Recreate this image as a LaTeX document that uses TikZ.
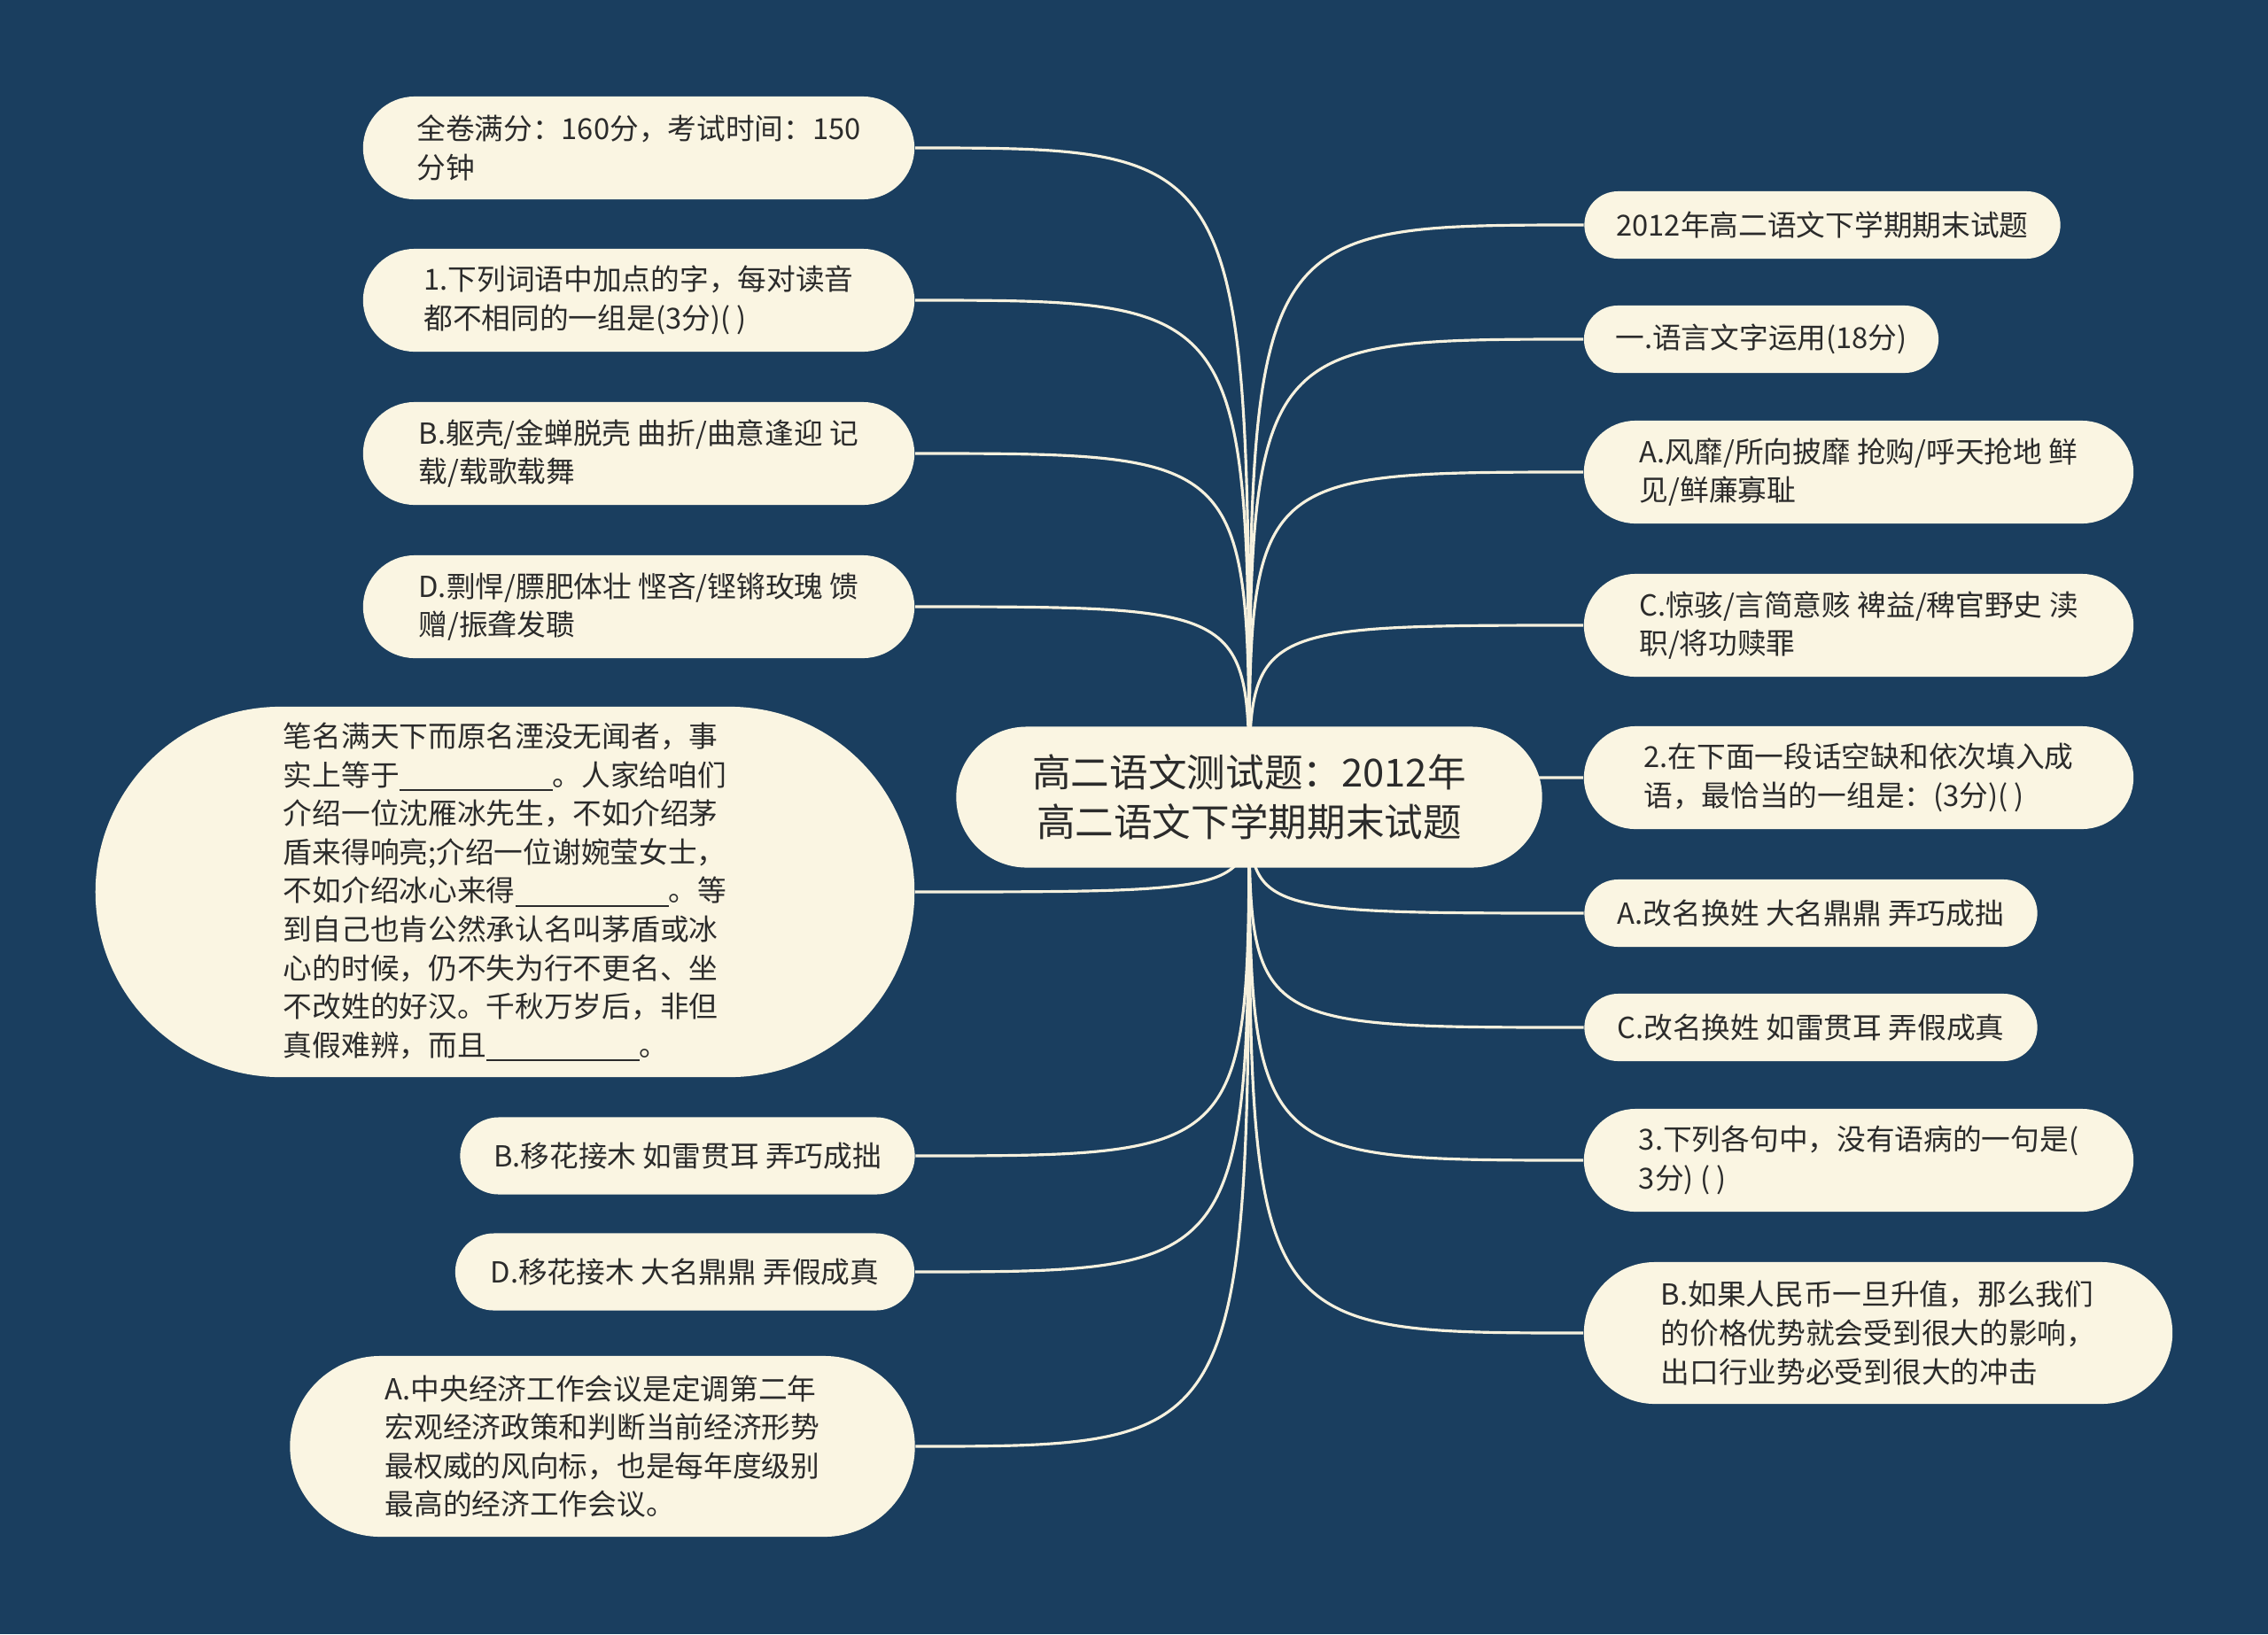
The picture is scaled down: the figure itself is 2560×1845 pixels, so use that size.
\documentclass[tikz,border=0pt]{standalone}
\usepackage{fontspec}
\setmainfont{Noto Sans CJK SC}
\usetikzlibrary{shapes.misc,backgrounds}
\definecolor{bgblue}{RGB}{26,62,95}
\definecolor{cream}{RGB}{250,245,226}
\definecolor{linecol}{RGB}{246,241,222}
\definecolor{ink}{RGB}{43,43,43}
\newcommand{\blank}{\rule[-0.18em]{1.73cm}{0.5pt}}

\begin{document}
\begin{tikzpicture}[x=0.01cm,y=-0.01cm,
  leaf/.style={rounded rectangle,fill=cream,text=ink,inner xsep=0pt,inner ysep=0pt,
    align=left,font=\fontsize{9.3pt}{12.4pt}\selectfont},
  root/.style={leaf,align=center,font=\fontsize{12.4pt}{15.8pt}\selectfont},
  link/.style={draw=linecol,line width=0.9pt}]
  \useasboundingbox (0,0) rectangle (2560,1845);
  % main topic
  \node[root,minimum width=6.61cm,minimum height=1.59cm] (M) at (1410,900) {高二语文测试题：2012年\\高二语文下学期期末试题};
  % left side
  \node[leaf,minimum width=6.22cm,minimum height=1.16cm] (L1) at (721,167) {全卷满分：160分，考试时间：150\\分钟};
  \node[leaf,minimum width=6.22cm,minimum height=1.16cm] (L2) at (721,339) {1.下列词语中加点的字，每对读音\\都不相同的一组是(3分)( )};
  \node[leaf,minimum width=6.22cm,minimum height=1.16cm] (L3) at (721,512) {B.躯壳/金蝉脱壳 曲折/曲意逢迎 记\\载/载歌载舞};
  \node[leaf,minimum width=6.22cm,minimum height=1.16cm] (L4) at (721,685) {D.剽悍/膘肥体壮 悭吝/铿锵玫瑰 馈\\赠/振聋发聩};
  \node[leaf,minimum width=9.24cm,minimum height=4.18cm] (L5) at (570,1007) {笔名满天下而原名湮没无闻者，事\\实上等于\blank。人家给咱们\\介绍一位沈雁冰先生，不如介绍茅\\盾来得响亮;介绍一位谢婉莹女士，\\不如介绍冰心来得\blank。等\\到自己也肯公然承认名叫茅盾或冰\\心的时候，仍不失为行不更名、坐\\不改姓的好汉。千秋万岁后，非但\\真假难辨，而且\blank。};
  \node[leaf,minimum width=5.13cm,minimum height=0.87cm] (L6) at (776,1305) {B.移花接木 如雷贯耳 弄巧成拙};
  \node[leaf,minimum width=5.18cm,minimum height=0.87cm] (L7) at (773,1436) {D.移花接木 大名鼎鼎 弄假成真};
  \node[leaf,minimum width=7.05cm,minimum height=2.04cm] (L8) at (680,1633) {A.中央经济工作会议是定调第二年\\宏观经济政策和判断当前经济形势\\最权威的风向标，也是每年度级别\\最高的经济工作会议。};
  % right side
  \node[leaf,minimum width=5.37cm,minimum height=0.76cm] (R1) at (2057,254) {2012年高二语文下学期期末试题};
  \node[leaf,minimum width=4.00cm,minimum height=0.76cm] (R2) at (1988,383) {一.语言文字运用(18分)};
  \node[leaf,minimum width=6.20cm,minimum height=1.16cm] (R3) at (2098,533) {A.风靡/所向披靡 抢购/呼天抢地 鲜\\见/鲜廉寡耻};
  \node[leaf,minimum width=6.20cm,minimum height=1.16cm] (R4) at (2098,706) {C.惊骇/言简意赅 裨益/稗官野史 渎\\职/将功赎罪};
  \node[leaf,minimum width=6.20cm,minimum height=1.16cm] (R5) at (2098,878) {2.在下面一段话空缺和依次填入成\\语，最恰当的一组是：(3分)( )};
  \node[leaf,minimum width=5.11cm,minimum height=0.76cm] (R6) at (2044,1031) {A.改名换姓 大名鼎鼎 弄巧成拙};
  \node[leaf,minimum width=5.11cm,minimum height=0.76cm] (R7) at (2044,1160) {C.改名换姓 如雷贯耳 弄假成真};
  \node[leaf,minimum width=6.20cm,minimum height=1.16cm] (R8) at (2098,1310) {3.下列各句中，没有语病的一句是(\\3分) ( )};
  \node[leaf,minimum width=6.64cm,minimum height=1.60cm] (R9) at (2120,1505) {B.如果人民币一旦升值，那么我们\\的价格优势就会受到很大的影响，\\出口行业势必受到很大的冲击};
  \begin{scope}[on background layer]
    \fill[bgblue] (0,0) rectangle (2560,1845);
    \draw[link] (M.center) .. controls (M.center |- L1.east) .. (L1.east);
    \draw[link] (M.center) .. controls (M.center |- L2.east) .. (L2.east);
    \draw[link] (M.center) .. controls (M.center |- L3.east) .. (L3.east);
    \draw[link] (M.center) .. controls (M.center |- L4.east) .. (L4.east);
    \draw[link] (M.center) .. controls (M.center |- L5.east) .. (L5.east);
    \draw[link] (M.center) .. controls (M.center |- L6.east) .. (L6.east);
    \draw[link] (M.center) .. controls (M.center |- L7.east) .. (L7.east);
    \draw[link] (M.center) .. controls (M.center |- L8.east) .. (L8.east);
    \draw[link] (M.center) .. controls (M.center |- R1.west) .. (R1.west);
    \draw[link] (M.center) .. controls (M.center |- R2.west) .. (R2.west);
    \draw[link] (M.center) .. controls (M.center |- R3.west) .. (R3.west);
    \draw[link] (M.center) .. controls (M.center |- R4.west) .. (R4.west);
    \draw[link] (M.center) .. controls (M.center |- R5.west) .. (R5.west);
    \draw[link] (M.center) .. controls (M.center |- R6.west) .. (R6.west);
    \draw[link] (M.center) .. controls (M.center |- R7.west) .. (R7.west);
    \draw[link] (M.center) .. controls (M.center |- R8.west) .. (R8.west);
    \draw[link] (M.center) .. controls (M.center |- R9.west) .. (R9.west);
  \end{scope}
\end{tikzpicture}
\end{document}
